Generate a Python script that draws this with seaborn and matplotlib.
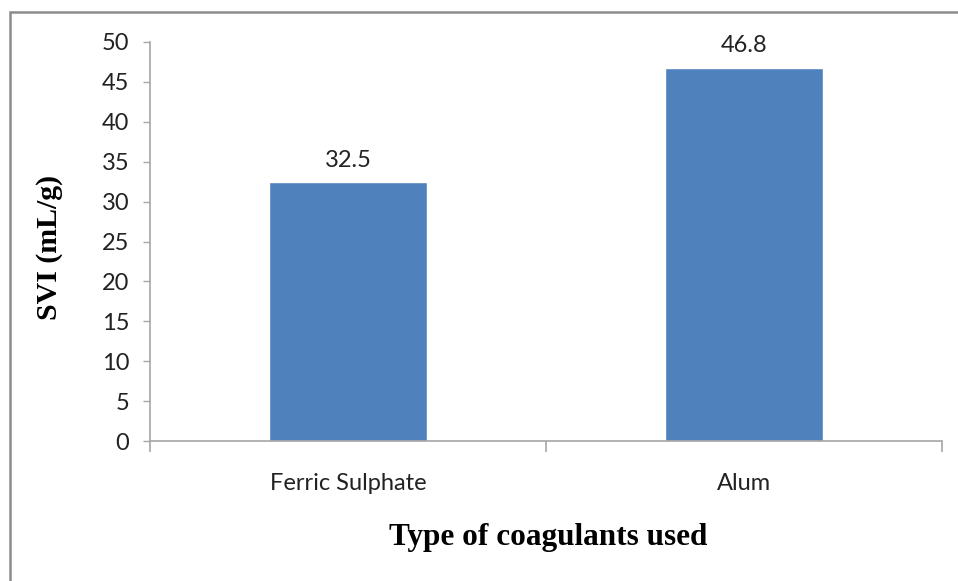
import matplotlib
matplotlib.use("Agg")
import matplotlib.pyplot as plt
import seaborn as sns
import pandas as pd
from matplotlib.patches import Rectangle

categories = ["Ferric Sulphate", "Alum"]
svi_values = [32.5, 46.8]
yticks = [0, 5, 10, 15, 20, 25, 30, 35, 40, 45, 50]

df = pd.DataFrame({"coagulant": categories, "svi": svi_values})

sns.set_theme(style="white")
plt.rcParams['font.family'] = ['Lato', 'DejaVu Sans']

W, H = 958, 581
fig = plt.figure(figsize=(W / 100, H / 100), dpi=100)
ax = fig.add_axes([150 / W, 1 - 441 / H, 792 / W, 399 / H])

sns.barplot(data=df, x="coagulant", y="svi", color="#4F81BD", saturation=1,
            width=0.4, ax=ax)

FS = 17
ax.set_ylim(0, 50)
ax.set_xlim(-0.5, 1.5)
ax.set_yticks(yticks)
ax.set_yticklabels([str(v) for v in yticks], fontsize=FS, color="#222222")
ax.set_xticks([-0.5, 0.5, 1.5], minor=False)
ax.set_xticklabels([])
ax.set_xticks([0, 1], minor=True)
ax.set_xticklabels(categories, minor=True, fontsize=FS, color="#222222")
ax.tick_params(axis="x", which="major", direction="out", length=8, width=1.2,
               color="#a6a6a6", bottom=True)
ax.tick_params(axis="x", which="minor", length=0, pad=23, bottom=True)
ax.tick_params(axis="y", direction="out", length=5, width=1.0,
               color="#a6a6a6", left=True, pad=10)

for s in ["top", "right"]:
    ax.spines[s].set_visible(False)
for s in ["left", "bottom"]:
    ax.spines[s].set_color("#a6a6a6")
    ax.spines[s].set_linewidth(1.2)

ax.set_xlabel("")
ax.set_ylabel("")

for i, v in enumerate(svi_values):
    ax.annotate(f"{v}", (i, v), xytext=(0, 8), textcoords="offset points",
                ha="center", va="bottom", fontsize=FS, color="#222222")

fig.text(548 / W, 1 - 537 / H, "Type of coagulants used", ha="center", va="center",
         fontsize=22.5, fontweight="bold", family=["Liberation Serif"], color="black")
fig.text(50 / W, 1 - 247 / H, "SVI (mL/g)", ha="center", va="center", rotation=90,
         fontsize=21.5, fontweight="bold", family=["Liberation Serif"], color="black")

fig.patches.append(Rectangle((9.5 / W, -0.1), 1.2, 1 - 12.5 / H + 0.1,
                             transform=fig.transFigure, fill=False,
                             edgecolor="#8c8c8c", linewidth=1.8))

fig.savefig("out.png", dpi=100)
